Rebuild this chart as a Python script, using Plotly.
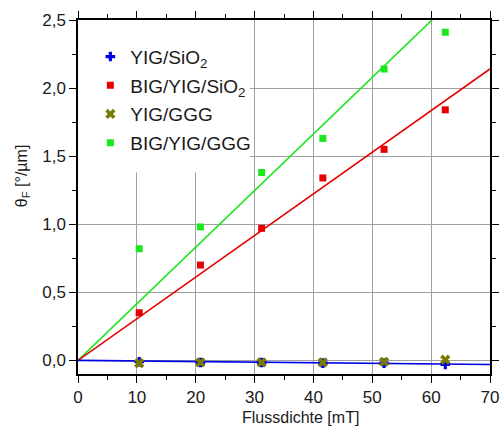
import plotly.graph_objects as go

field = [10.4, 20.8, 31.2, 41.6, 52.0, 62.4]
yig_sio2 = [-0.01, -0.015, -0.015, -0.02, -0.02, -0.03]
big_yig_sio2 = [0.35, 0.70, 0.97, 1.34, 1.55, 1.84]
yig_ggg = [-0.02, -0.015, -0.015, -0.015, -0.01, 0.005]
big_yig_ggg = [0.82, 0.98, 1.38, 1.63, 2.14, 2.41]

fit_x = [0, 70]
fit_yig_sio2 = [0.0, -0.03]
fit_big_yig_sio2 = [0.0, 2.14]
fit_big_yig_ggg = [0.0, 2.91]

blue = "#0000e6"
red = "#e60000"
olive = "#7a7a00"
green = "#1ee61e"
txt = "#1a1a1a"

fig = go.Figure()
fig.add_trace(go.Scatter(x=fit_x, y=fit_big_yig_ggg, mode="lines", line=dict(color=green, width=1.6), showlegend=False, hoverinfo="skip"))
fig.add_trace(go.Scatter(x=fit_x, y=fit_big_yig_sio2, mode="lines", line=dict(color=red, width=1.6), showlegend=False, hoverinfo="skip"))
fig.add_trace(go.Scatter(x=fit_x, y=fit_yig_sio2, mode="lines", line=dict(color=blue, width=1.6), showlegend=False, hoverinfo="skip"))

fig.add_trace(go.Scatter(x=field, y=yig_sio2, mode="markers", name="YIG/SiO<sub>2</sub>", legendgroup="a",
                         marker=dict(symbol="cross", size=8, color=blue)))
fig.add_trace(go.Scatter(x=field, y=big_yig_sio2, mode="markers", name="BIG/YIG/SiO<sub>2</sub>", legendgroup="b",
                         marker=dict(symbol="square", size=7, color=red)))
fig.add_trace(go.Scatter(x=field, y=yig_ggg, mode="markers", name="YIG/GGG", legendgroup="c",
                         marker=dict(symbol="x", size=9, color=olive)))
fig.add_trace(go.Scatter(x=field, y=big_yig_ggg, mode="markers", name="BIG/YIG/GGG", legendgroup="d",
                         marker=dict(symbol="square", size=7, color=green)))

fig.add_shape(type="rect", xref="x", yref="y", x0=0, x1=29.2, y0=1.38, y1=2.5,
              fillcolor="white", line=dict(width=0), layer="between")

fig.add_annotation(text="θ<sub>F</sub> [°/µm]", xref="paper", yref="paper", x=-0.135, y=0.56,
                   textangle=-90, showarrow=False, font=dict(size=16, color=txt), xanchor="center", yanchor="middle")
fig.add_annotation(text="Flussdichte [mT]", xref="paper", yref="paper", x=0.54, y=-0.124,
                   showarrow=False, font=dict(size=16, color=txt), xanchor="center", yanchor="middle")

axis_common = dict(showline=True, linecolor="black", linewidth=1.5, mirror="ticks",
                   ticks="outside", ticklen=7, tickwidth=1.2, tickcolor="black",
                   showgrid=True, gridcolor="#a0a0a0", gridwidth=1, zeroline=False,
                   automargin=False, tickfont=dict(size=17, color=txt))

fig.update_xaxes(range=[0, 70], dtick=10,
                 minor=dict(dtick=5, ticks="outside", ticklen=4, tickcolor="black", showgrid=False),
                 **axis_common)
fig.update_yaxes(range=[-0.1, 2.5], tick0=0, dtick=0.5, tickformat=".1f",
                 minor=dict(tick0=0, dtick=0.25, ticks="outside", ticklen=4, tickcolor="black", showgrid=False),
                 **axis_common)

fig.update_layout(
    width=502, height=430,
    margin=dict(l=78, r=12, t=20, b=56),
    paper_bgcolor="white", plot_bgcolor="white",
    separators=",.",
    font=dict(family="Liberation Sans, Arial, sans-serif"),
    legend=dict(x=0.03, y=0.95, xanchor="left", yanchor="top", bgcolor="rgba(0,0,0,0)",
                font=dict(size=19, color=txt), tracegroupgap=1, itemwidth=30),
)

fig.write_html("out.html")
